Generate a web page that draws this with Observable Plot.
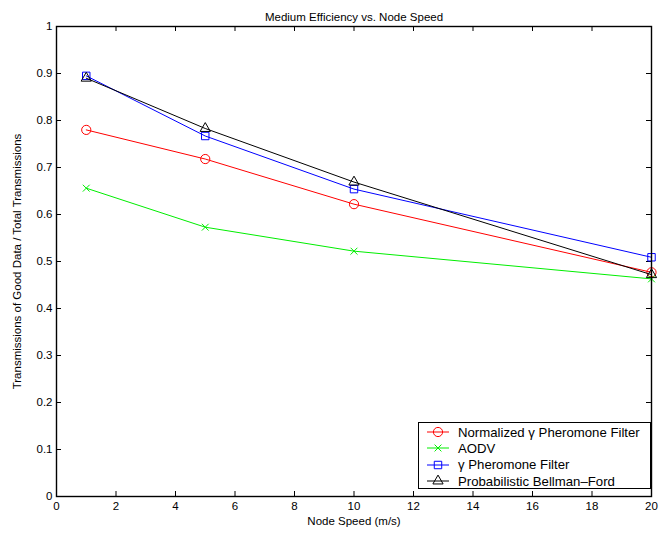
<!DOCTYPE html>
<html>
<head>
<meta charset="utf-8">
<script src="https://cdn.jsdelivr.net/npm/d3@7"></script>
<script src="https://cdn.jsdelivr.net/npm/@observablehq/plot@0.6"></script>
<style>
  html, body { margin: 0; padding: 0; background: #fff; }
  #wrap { position: relative; width: 659px; height: 537px; font-family: "Liberation Sans", Arial, sans-serif; }
  #legend { position: absolute; left: 418px; top: 422px; width: 233px; height: 67px; box-sizing: border-box;
    border: 1px solid #000; background: #fff; font-size: 13.2px; padding-top: 1px; }
  #legend .row { display: flex; align-items: center; height: 16.3px; }
  #legend svg { margin-left: 7px; margin-right: 8px; }
</style>
</head>
<body>
<div id="wrap"><div id="chart"></div><div id="legend"></div></div>
<script>
// ---- data ----
const speeds = [1, 5, 10, 20];
const normalizedGamma = [0.780, 0.718, 0.622, 0.477];
const aodv = [0.656, 0.573, 0.522, 0.463];
const gammaFilter = [0.895, 0.767, 0.654, 0.509];
const bellmanFord = [0.890, 0.783, 0.669, 0.472];
const seriesNames = ["Normalized \u03b3 Pheromone Filter", "AODV", "\u03b3 Pheromone Filter", "Probabilistic Bellman\u2013Ford"];
const seriesColors = ["#ff0000", "#00ee00", "#0000ff", "#000000"];
const seriesSymbols = ["circle", "times", "square", "triangle"];
const seriesR = [4.6, 3.2, 4.2, 3.8];
const xTicks = d3.range(0, 21, 2);
const yTicks = d3.range(0, 1.01, 0.1);
const titleText = "Medium Efficiency vs. Node Speed";
const xLabel = "Node Speed (m/s)";
const yLabel = "Transmissions of Good Data / Total Transmissions";

const W = 659, H = 537, ML = 56, MR = 8, MT = 26, MB = 41;
const plotW = W - ML - MR, plotH = H - MT - MB, TICK = 5;

const allValues = [normalizedGamma, aodv, gammaFilter, bellmanFord];
const marks = [];
allValues.forEach((vals, i) => {
  const rows = speeds.map((s, j) => ({x: s, y: vals[j]}));
  marks.push(Plot.line(rows, {x: "x", y: "y", stroke: seriesColors[i], strokeWidth: 1}));
  marks.push(Plot.dot(rows, {x: "x", y: "y", stroke: seriesColors[i], fill: "none", symbol: seriesSymbols[i], r: seriesR[i], strokeWidth: 1}));
});

const fmtY = d => (Math.abs(d) < 1e-9 ? "0" : Math.abs(d - 1) < 1e-9 ? "1" : d3.format(".1f")(d));

const chart = Plot.plot({
  width: W,
  height: H,
  marginLeft: ML,
  marginRight: MR,
  marginTop: MT,
  marginBottom: MB,
  style: {fontFamily: "Liberation Sans, Arial, sans-serif", fontSize: "11.5px", background: "#fff", color: "#000"},
  x: {domain: [0, 20]},
  y: {domain: [0, 1]},
  marks: [
    Plot.axisX(xTicks, {anchor: "bottom", tickSize: 0, tickPadding: 5, label: xLabel, labelAnchor: "center", labelArrow: "none", labelOffset: 28, fontSize: 11.5}),
    Plot.axisY(yTicks, {anchor: "left", tickSize: 0, tickPadding: 4, tickFormat: fmtY, label: yLabel, labelAnchor: "center", labelArrow: "none", labelOffset: 44, fontSize: 11.5}),
    // inward MATLAB-style ticks on all four sides
    Plot.ruleX(xTicks, {x: d => d, insetTop: plotH - TICK, stroke: "#000"}),
    Plot.ruleX(xTicks, {x: d => d, insetBottom: plotH - TICK, stroke: "#000"}),
    Plot.ruleY(yTicks, {y: d => d, insetRight: plotW - TICK, stroke: "#000"}),
    Plot.ruleY(yTicks, {y: d => d, insetLeft: plotW - TICK, stroke: "#000"}),
    ...marks,
    Plot.frame({stroke: "#000", strokeWidth: 1.4}),
    Plot.text([titleText], {frameAnchor: "top", dy: -14, text: d => d, fontSize: 11.5})
  ]
});
document.getElementById("chart").appendChild(chart);

// ---- legend (HTML overlay, real text) ----
const symbolTypes = {circle: d3.symbolCircle, times: d3.symbolTimes, square: d3.symbolSquare, triangle: d3.symbolTriangle};
const legend = document.getElementById("legend");
const ns = "http://www.w3.org/2000/svg";
seriesNames.forEach((name, i) => {
  const row = document.createElement("div");
  row.className = "row";
  const svg = document.createElementNS(ns, "svg");
  svg.setAttribute("width", 24); svg.setAttribute("height", 12);
  const line = document.createElementNS(ns, "line");
  line.setAttribute("x1", 1); line.setAttribute("x2", 23); line.setAttribute("y1", 6); line.setAttribute("y2", 6);
  line.setAttribute("stroke", seriesColors[i]);
  svg.appendChild(line);
  const sym = d3.symbol(symbolTypes[seriesSymbols[i]], Math.PI * seriesR[i] * seriesR[i]);
  const p = document.createElementNS(ns, "path");
  p.setAttribute("d", sym());
  p.setAttribute("transform", "translate(12,6)");
  p.setAttribute("fill", "none");
  p.setAttribute("stroke", seriesColors[i]);
  svg.appendChild(p);
  row.appendChild(svg);
  const span = document.createElement("span");
  span.textContent = name;
  row.appendChild(span);
  legend.appendChild(row);
});
</script>
</body>
</html>
